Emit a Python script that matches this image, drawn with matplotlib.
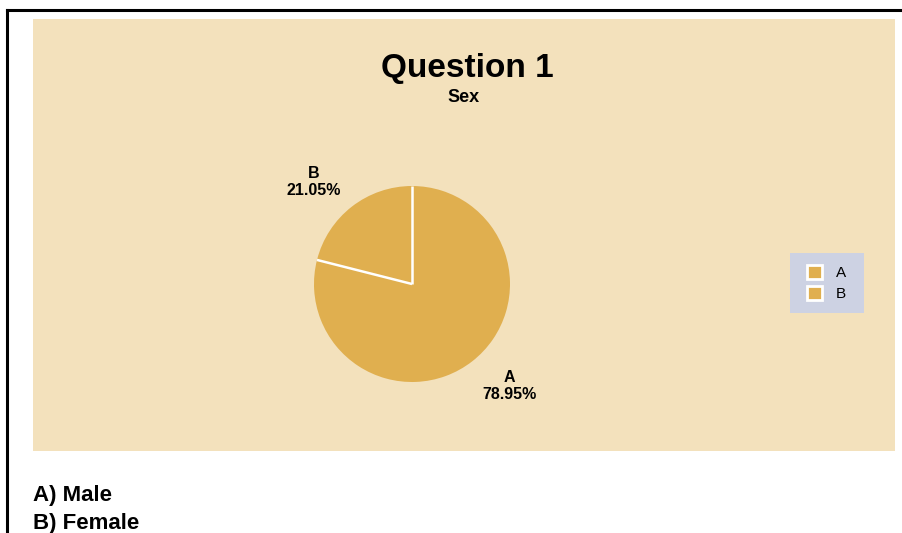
import numpy as np
import matplotlib.pyplot as plt
from matplotlib.patches import Rectangle, Patch
from matplotlib.lines import Line2D

# --- data ---
labels = ["A", "B"]
values = [78.95, 21.05]
title = "Question 1"
subtitle = "Sex"
answers = ["A) Male", "B) Female"]

W, H = 903, 533
gold = "#E0AF4F"
beige = "#F3E1BC"
legend_bg = "#CDD2E3"

plt.rcParams['font.family'] = ['Liberation Sans', 'DejaVu Sans']

fig = plt.figure(figsize=(W / 100, H / 100), dpi=100)
fig.patch.set_facecolor("white")


def fx(px):
    return px / W


def fy(py):
    return 1 - py / H


# --- page border (top + left) ---
fig.add_artist(Line2D([fx(7), 1.0], [fy(10), fy(10)], color="black", lw=2.2,
                      transform=fig.transFigure))
fig.add_artist(Line2D([fx(7), fx(7)], [fy(10), 0.0], color="black", lw=2.2,
                      transform=fig.transFigure))

# --- chart panel (behind everything) ---
fig.add_artist(Rectangle((fx(33), fy(451)), fx(895) - fx(33), fy(19) - fy(451),
                         facecolor=beige, edgecolor="none", transform=fig.transFigure,
                         zorder=-5))

fig.text(fx(467), fy(68), title, ha="center", va="center", fontsize=24, fontweight="bold")
fig.text(fx(464), fy(97.5), subtitle, ha="center", va="center", fontsize=13, fontweight="bold")

# --- pie ---
cx, cy, r = 412, 284, 98
ax = fig.add_axes([fx(cx - r), fy(cy + r), fx(2 * r), fy(cy - r) - fy(cy + r)])
ax.set_zorder(2)
wedges, texts = ax.pie(values, colors=[gold, gold], startangle=90, counterclock=False,
                       wedgeprops=dict(linewidth=0),
                       labels=[f"{l}\n{v:.2f}%" for l, v in zip(labels, values)],
                       labeldistance=1.44,
                       textprops=dict(fontsize=11.5, fontweight="bold", ha="center", va="center"))
ax.set_xlim(-1, 1)
ax.set_ylim(-1, 1)
ax.set_aspect("auto")
for w, t in zip(wedges, texts):
    # labels sit a little counter-clockwise of the slice middle
    mid = np.deg2rad((w.theta1 + w.theta2) / 2 + 6)
    t.set_position((1.44 * np.cos(mid), 1.44 * np.sin(mid)))
    t.set_linespacing(1.15)
    th = np.deg2rad(w.theta1)
    ax.plot([0, np.cos(th)], [0, np.sin(th)], color="white", lw=1.8, solid_capstyle="butt")

# --- legend ---
fig.add_artist(Rectangle((fx(790), fy(313)), fx(864) - fx(790), fy(253) - fy(313),
                         facecolor=legend_bg, edgecolor="none", transform=fig.transFigure,
                         zorder=2.5))
handles = [Patch(facecolor=gold, edgecolor="white", linewidth=2) for _ in labels]
leg = fig.legend(handles, labels, loc="center", bbox_to_anchor=(fx(826.5), fy(283)),
                 bbox_transform=fig.transFigure, fontsize=11, frameon=False,
                 handlelength=1.0, handleheight=1.0,
                 handletextpad=0.9, labelspacing=0.4, borderpad=0.8, borderaxespad=0)
leg.set_zorder(3)

# --- answer key below the chart ---
fig.text(fx(33), fy(496), answers[0], ha="left", va="center", fontsize=16, fontweight="bold")
fig.text(fx(33), fy(524), answers[1], ha="left", va="center", fontsize=16, fontweight="bold")

fig.savefig("out.png", dpi=100)
